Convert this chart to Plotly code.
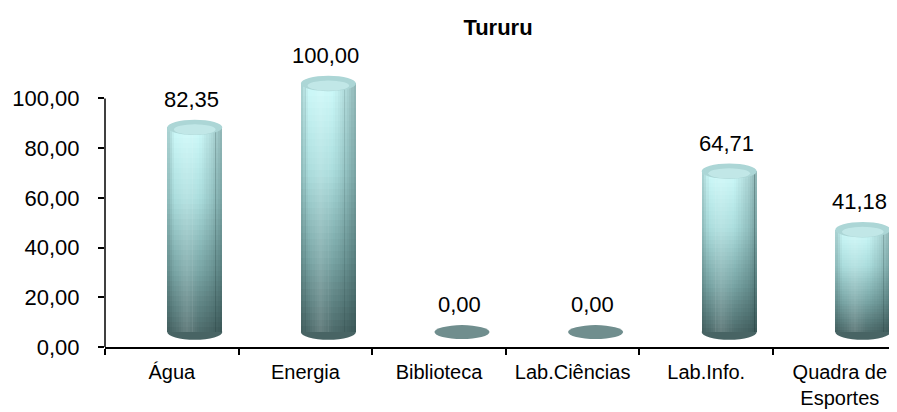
import plotly.graph_objects as go

# ---- data ----
categories = ["Água", "Energia", "Biblioteca", "Lab.Ciências", "Lab.Info.", "Quadra de<br>Esportes"]
values = [82.35, 100.00, 0.00, 0.00, 64.71, 41.18]
y_ticks = [0, 20, 40, 60, 80, 100]
title_text = "Tururu"

# ---- style constants ----
FONT = "Liberation Sans, Arial, sans-serif"
FS = 22
FS_X = 20
FLOOR = 6.0            # perspective lift of the cylinders (axis units)
BAR_W = 0.412          # cylinder width (category units)
BAR_OFF = -0.034       # cylinder left edge relative to category centre
CAP_H = 3.1            # half height of the elliptical caps (axis units)
N_SEG = 40
N_STRIP = 24

stops = [(0.0, (78, 108, 108)), (0.3, (122, 166, 166)), (0.65, (172, 222, 222)), (1.0, (206, 250, 250))]


def grad(t):
    for (t0, c0), (t1, c1) in zip(stops[:-1], stops[1:]):
        if t <= t1:
            f = (t - t0) / (t1 - t0)
            return "rgb(%d,%d,%d)" % tuple(round(a + (b - a) * f) for a, b in zip(c0, c1))
    return "rgb(%d,%d,%d)" % stops[-1][1]


# horizontal shading profile: (position across width, signed strength)
shade = [(0.0, -0.22), (0.12, -0.02), (0.35, 0.14), (0.55, 0.02), (0.8, -0.14), (1.0, -0.34)]


def shade_at(u):
    for (u0, s0), (u1, s1) in zip(shade[:-1], shade[1:]):
        if u <= u1:
            return s0 + (s1 - s0) * (u - u0) / (u1 - u0)
    return shade[-1][1]


fig = go.Figure()

# vertical gradient: each cylinder split into stacked slices of its own value
for k in range(N_SEG):
    fig.add_trace(go.Bar(
        x=categories,
        y=[v / N_SEG * 1.08 for v in values],
        base=[FLOOR + v * k / N_SEG for v in values],
        width=BAR_W, offset=BAR_OFF,
        marker=dict(color=grad((k + 0.5) / N_SEG), line=dict(width=0)),
        hoverinfo="skip", showlegend=False,
    ))

# horizontal shading overlays
for j in range(N_STRIP):
    u = (j + 0.5) / N_STRIP
    s = shade_at(u)
    col = "rgba(255,255,255,%.3f)" % s if s > 0 else "rgba(20,45,45,%.3f)" % (-s)
    fig.add_trace(go.Bar(
        x=categories,
        y=values,
        base=[FLOOR for v in values],
        width=BAR_W / N_STRIP * 1.05, offset=BAR_OFF + BAR_W * j / N_STRIP,
        marker=dict(color=col, line=dict(width=0)),
        hoverinfo="skip", showlegend=False,
    ))

shapes = []
annotations = []
for i, v in enumerate(values):
    x0 = i + BAR_OFF
    x1 = i + BAR_OFF + BAR_W
    if v > 0:
        shapes.append(dict(type="circle", xref="x", yref="y", x0=x0, x1=x1,
                           y0=FLOOR - CAP_H, y1=FLOOR + CAP_H, layer="below",
                           fillcolor="rgb(72,100,100)", line=dict(width=0)))
        shapes.append(dict(type="circle", xref="x", yref="y", x0=x0, x1=x1,
                           y0=FLOOR + v - CAP_H, y1=FLOOR + v + CAP_H,
                           fillcolor="rgb(172,214,214)", line=dict(width=0)))
        shapes.append(dict(type="circle", xref="x", yref="y", x0=x0 + 0.05, x1=x1 - 0.05,
                           y0=FLOOR + v - CAP_H * 0.95, y1=FLOOR + v + CAP_H * 0.4,
                           fillcolor="rgba(220,252,252,0.45)", line=dict(width=0)))
    else:
        shapes.append(dict(type="circle", xref="x", yref="y", x0=x0, x1=x1,
                           y0=FLOOR + v - 2.8, y1=FLOOR + v + 2.8,
                           fillcolor="rgb(112,142,142)", line=dict(width=0)))
    annotations.append(dict(x=i, y=v, xref="x", yref="y", text=f"{v:.2f}".replace(".", ","),
                            showarrow=False, xshift=20, yshift=43,
                            font=dict(family=FONT, size=FS, color="black")))

# visible y axis line only from 0 to 100
shapes.append(dict(type="line", xref="paper", yref="y", x0=0, x1=0, y0=0, y1=y_ticks[-1],
                   line=dict(color="black", width=1.5)))

fig.update_layout(
    width=889, height=404,
    margin=dict(l=97, r=0, t=32, b=65),
    paper_bgcolor="white", plot_bgcolor="white",
    barmode="overlay", bargap=0,
    separators=",.",
    font=dict(family=FONT, size=FS, color="black"),
    title=dict(text="<b>" + title_text + "</b>", x=(498 - 8) / 889, xref="container", xanchor="center",
               y=1 - (27 - 8) / 404, yref="container", yanchor="middle",
               font=dict(family=FONT, size=FS, color="black")),
    shapes=shapes, annotations=annotations,
    showlegend=False,
)
fig.update_xaxes(type="category", range=[-0.5, 5.428], showline=True, linecolor="black", linewidth=1.5,
                 ticks="outside", tickson="boundaries", ticklen=6, tickcolor="black", tickwidth=1.5,
                 showgrid=False, zeroline=False, ticklabelstandoff=6, tickangle=0, automargin=False,
                 tickfont=dict(family=FONT, size=FS_X, color="black"))
fig.update_yaxes(range=[0, 307 / 2.486], tickvals=y_ticks, tickformat=".2f", showline=False,
                 ticks="outside", ticklen=6, tickcolor="black", tickwidth=1.5,
                 showgrid=False, zeroline=False, ticklabelstandoff=14, automargin=False,
                 tickfont=dict(family=FONT, size=FS, color="black"))

fig.write_html("out.html")
